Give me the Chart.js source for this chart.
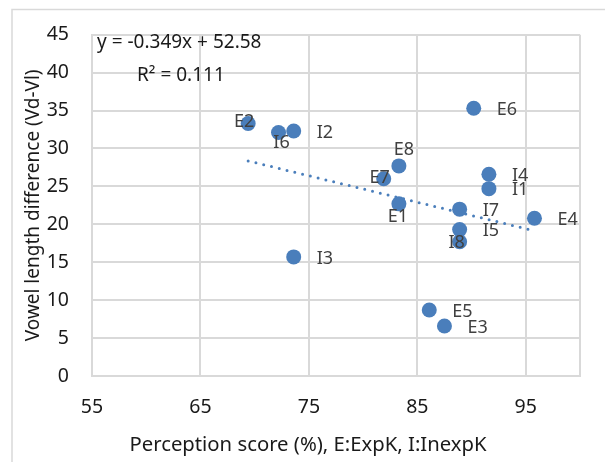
<!DOCTYPE html>
<html>
<head>
<meta charset="utf-8">
<script src="https://cdn.jsdelivr.net/npm/chart.js@4/dist/chart.umd.min.js"></script>
<style>
  html, body { margin: 0; padding: 0; background: #ffffff; }
  #wrap { width: 605px; height: 462px; }
</style>
</head>
<body>
<div id="wrap"><canvas id="c" width="605" height="462"></canvas></div>
<script>
// Speakers: E = experienced (ExpK), I = inexperienced (InexpK)
const speakers = ['E1', 'E2', 'E3', 'E4', 'E5', 'E6', 'E7', 'E8',
                  'I1', 'I2', 'I3', 'I4', 'I5', 'I6', 'I7', 'I8'];
const perceptionScores = [83.3, 69.4, 87.5, 95.8, 86.1, 90.2, 81.9, 83.3,
                          91.6, 73.6, 73.6, 91.6, 88.9, 72.2, 88.9, 88.9];
const vowelLengthDiffs = [22.7, 33.3, 6.6, 20.8, 8.7, 35.3, 26.0, 27.7,
                          24.7, 32.3, 15.7, 26.6, 19.3, 32.1, 22.0, 17.7];

// Axis ticks
const xTickValues = [55, 65, 75, 85, 95];
const xAxisMax = 100;
const yTickValues = [0, 5, 10, 15, 20, 25, 30, 35, 40, 45];

// Linear trend line
const trendSlope = -0.349;
const trendIntercept = 52.58;
const rSquared = 0.111;

const FONT = "'Noto Sans', 'Open Sans', sans-serif";
const POINT_COLOR = '#4a7ebb';
const GRID_COLOR = '#d9d9d9';

const points = speakers.map((s, i) => ({ x: perceptionScores[i], y: vowelLengthDiffs[i], label: s }));
const xMin = Math.min(...perceptionScores);
const xMax = Math.max(...perceptionScores);
const trendPoints = [xMin, xMax].map(x => ({ x: x, y: trendSlope * x + trendIntercept }));

// Label placement around each marker (default: to the right)
const labelNudge = {
  E2: { dx: -4, dy: -2 },
  I6: { dx: 3, dy: 10 },
  E8: { dx: 5, dy: -16 },
  E7: { dx: -4, dy: -1 },
  E1: { dx: -1, dy: 13 },
  I8: { dx: -3, dy: 1 }
};

const frame = {
  id: 'frame',
  beforeDraw(chart) {
    const ctx = chart.ctx;
    ctx.save();
    ctx.fillStyle = '#ffffff';
    ctx.fillRect(0, 0, chart.width, chart.height);
    ctx.strokeStyle = GRID_COLOR;
    ctx.lineWidth = 1.5;
    ctx.beginPath();
    ctx.moveTo(12, chart.height);
    ctx.lineTo(12, 9.5);
    ctx.lineTo(chart.width, 9.5);
    ctx.stroke();
    ctx.restore();
  }
};

const pointLabels = {
  id: 'pointLabels',
  afterDatasetsDraw(chart) {
    const ctx = chart.ctx;
    const meta = chart.getDatasetMeta(1);
    ctx.save();
    ctx.font = '18px ' + FONT;
    ctx.fillStyle = '#404040';
    ctx.textBaseline = 'middle';
    meta.data.forEach((el, i) => {
      const name = speakers[i];
      const n = labelNudge[name];
      if (n) {
        ctx.textAlign = 'center';
        ctx.fillText(name, el.x + n.dx, el.y + n.dy);
      } else {
        ctx.textAlign = 'left';
        ctx.fillText(name, el.x + 23, el.y + 1.5);
      }
    });
    ctx.restore();
  }
};

const annotations = {
  id: 'annotations',
  afterDraw(chart) {
    const ctx = chart.ctx;
    ctx.save();
    ctx.fillStyle = '#1a1a1a';
    ctx.textBaseline = 'middle';
    ctx.textAlign = 'left';
    ctx.font = '19px ' + FONT;
    ctx.fillText('y = ' + trendSlope + 'x + ' + trendIntercept, 97, 43);
    ctx.fillText('R² = ' + rSquared, 137, 76);
    ctx.textAlign = 'center';
    ctx.font = '20.3px ' + FONT;
    ctx.fillText('Perception score (%), E:ExpK, I:InexpK', 308, 445);
    ctx.restore();
  }
};

new Chart(document.getElementById('c'), {
  data: {
    datasets: [
      {
        type: 'line',
        data: trendPoints,
        borderColor: POINT_COLOR,
        borderWidth: 3,
        borderDash: [0, 8],
        borderCapStyle: 'round',
        pointRadius: 0,
        fill: false,
        order: 0
      },
      {
        type: 'scatter',
        data: points,
        backgroundColor: POINT_COLOR,
        borderWidth: 0,
        pointRadius: 7.5,
        pointHoverRadius: 7.5,
        order: 1
      }
    ]
  },
  options: {
    responsive: false,
    animation: false,
    devicePixelRatio: 1,
    layout: { padding: { top: 27, right: 25, left: 0, bottom: 0 } },
    plugins: { legend: { display: false }, tooltip: { enabled: false } },
    scales: {
      x: {
        type: 'linear',
        min: xTickValues[0],
        max: xAxisMax,
        afterBuildTicks: s => { s.ticks = xTickValues.concat([xAxisMax]).map(v => ({ value: v })); },
        afterFit: s => { s.height = 86; },
        grid: { color: GRID_COLOR, lineWidth: 2, drawTicks: false },
        border: { color: GRID_COLOR, width: 2 },
        ticks: {
          padding: 20,
          color: '#1a1a1a',
          font: { family: FONT, size: 19.5 },
          maxRotation: 0,
          callback: v => (xTickValues.includes(v) ? String(v) : '')
        }
      },
      y: {
        type: 'linear',
        min: yTickValues[0],
        max: yTickValues[yTickValues.length - 1],
        afterBuildTicks: s => { s.ticks = yTickValues.map(v => ({ value: v })); },
        afterFit: s => { s.width = 92; },
        grid: { color: GRID_COLOR, lineWidth: 2, drawTicks: false },
        border: { color: GRID_COLOR, width: 2 },
        ticks: {
          padding: 23,
          color: '#1a1a1a',
          font: { family: FONT, size: 19.5 }
        },
        title: {
          display: true,
          text: 'Vowel length difference (Vd-Vl)',
          color: '#1a1a1a',
          font: { family: FONT, size: 19 },
          padding: { top: 22.6, bottom: 0 }
        }
      }
    }
  },
  plugins: [frame, pointLabels, annotations]
});
</script>
</body>
</html>
